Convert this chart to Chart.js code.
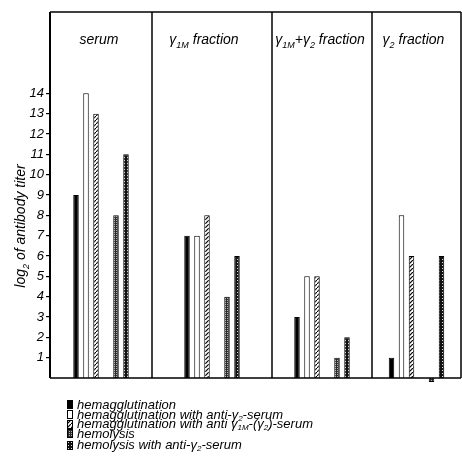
<!DOCTYPE html>
<html>
<head>
<meta charset="utf-8">
<script src="https://cdn.jsdelivr.net/npm/chart.js@4.4.1/dist/chart.umd.min.js"></script>
<style>
html,body{margin:0;padding:0;background:#fff;}
#wrap{position:relative;width:462px;height:473px;overflow:hidden;background:#fff;}
#wrap canvas.panel{position:absolute;top:0;}
#legend{position:absolute;left:67px;top:400px;font:italic 13px 'Liberation Sans',Arial,sans-serif;color:#000;}
#legend .item{height:9.7px;line-height:9.7px;white-space:nowrap;display:flex;align-items:center;}
#legend .item:last-child{margin-top:1.5px;}
#legend .item canvas{margin-right:4px;flex:none;}
#legend sub{font-size:8px;vertical-align:-2px;line-height:0;}
</style>
</head>
<body>
<div id="wrap"><div id="legend"></div></div>
<script>
// ---- data ----
const categories = ['serum', 'γ1M fraction', 'γ1M+γ2 fraction', 'γ2 fraction'];
const seriesLabels = [
  'hemagglutination',
  'hemagglutination with anti-γ2-serum',
  'hemagglutination with anti γ1M-(γ2)-serum',
  'hemolysis',
  'hemolysis with anti-γ2-serum'
];
const hemagglutination        = [9, 7, 3, 1];
const hemagglutinationAntiG2  = [14, 7, 5, 8];
const hemagglutinationAntiG1M = [13, 8, 5, 6];
const hemolysis               = [8, 4, 1, -0.2];
const hemolysisAntiG2         = [11, 6, 2, 6];
const yTicks = [1, 2, 3, 4, 5, 6, 7, 8, 9, 10, 11, 12, 13, 14];
const yTitle = 'log2 of antibody titer';

// ---- layout / style ----
const FONT = "'Liberation Sans', Arial, sans-serif";
const panelEdges = [50, 152, 272, 372, 461];
const CANVAS_H = 400, TOP = 12, BOTTOM_PAD = 22;
const series = [hemagglutination, hemagglutinationAntiG2, hemagglutinationAntiG1M, hemolysis, hemolysisAntiG2];

function makePattern(kind) {
  const c = document.createElement('canvas');
  const x = c.getContext('2d');
  if (kind === 'hatch') {
    c.width = 4; c.height = 4;
    x.fillStyle = '#fff'; x.fillRect(0, 0, 4, 4);
    x.strokeStyle = '#000'; x.lineWidth = 1.2;
    x.beginPath(); x.moveTo(-1, 5); x.lineTo(5, -1); x.stroke();
  } else if (kind === 'stipple') {
    c.width = 2; c.height = 2;
    x.fillStyle = '#2a2a2a'; x.fillRect(0, 0, 2, 2);
    x.fillStyle = '#b0b0b0'; x.fillRect(0, 0, 1, 1);
  } else {
    c.width = 3; c.height = 3;
    x.fillStyle = '#111'; x.fillRect(0, 0, 3, 3);
    x.fillStyle = '#ddd'; x.fillRect(1, 1, 1, 1);
  }
  return x.createPattern(c, 'repeat');
}
const fills = ['#000', '#fff', makePattern('hatch'), makePattern('stipple'), makePattern('dense')];

function toRuns(text) {
  const runs = []; let last = 0; const re = /(γ|log)(\d+M?)/g; let m;
  while ((m = re.exec(text))) {
    if (m.index > last) runs.push({t: text.slice(last, m.index), sub: false});
    runs.push({t: m[1], sub: false}); runs.push({t: m[2], sub: true});
    last = re.lastIndex;
  }
  if (last < text.length) runs.push({t: text.slice(last), sub: false});
  return runs;
}
function drawRuns(ctx, text, x, y, size) {
  const runs = toRuns(text);
  const fonts = runs.map(r => `italic ${r.sub ? Math.round(size * 0.62) : size}px ${FONT}`);
  let total = 0;
  const widths = runs.map((r, i) => { ctx.font = fonts[i]; const w = ctx.measureText(r.t).width; total += w; return w; });
  let cx = x - total / 2;
  ctx.textAlign = 'left'; ctx.textBaseline = 'alphabetic'; ctx.fillStyle = '#000';
  runs.forEach((r, i) => { ctx.font = fonts[i]; ctx.fillText(r.t, cx, y + (r.sub ? size * 0.28 : 0)); cx += widths[i]; });
}

const framePlugin = {
  id: 'frame',
  afterDraw(chart, args, opts) {
    const {ctx, chartArea: a} = chart;
    ctx.save();
    ctx.strokeStyle = '#000';
    ctx.lineWidth = opts.first ? 2 : 1.5;
    ctx.beginPath(); ctx.moveTo(a.left, a.top); ctx.lineTo(a.left, a.bottom); ctx.stroke();
    ctx.lineWidth = 1.6;
    ctx.beginPath(); ctx.moveTo(a.left, a.top); ctx.lineTo(a.right, a.top); ctx.stroke();
    ctx.beginPath(); ctx.moveTo(a.left, a.bottom); ctx.lineTo(a.right, a.bottom); ctx.stroke();
    if (opts.last) { ctx.lineWidth = 1.5; ctx.beginPath(); ctx.moveTo(a.right, a.top); ctx.lineTo(a.right, a.bottom); ctx.stroke(); }
    drawRuns(ctx, chart.data.labels[0], (a.left + a.right) / 2 + (opts.titleShift || 0), 44, 14);
    if (opts.first) {
      ctx.save();
      ctx.translate(21, 226); ctx.rotate(-Math.PI / 2);
      drawRuns(ctx, yTitle, 0, 4, 14);
      ctx.restore();
    }
    ctx.restore();
  }
};

const wrap = document.getElementById('wrap');
categories.forEach((cat, i) => {
  const L = panelEdges[i], R = panelEdges[i + 1], W = R - L;
  const first = i === 0, last = i === categories.length - 1;
  const cv = document.createElement('canvas');
  cv.className = 'panel';
  const cLeft = first ? 0 : L - 3;
  cv.width = R + 3 - cLeft; cv.height = CANVAS_H;
  cv.style.left = cLeft + 'px';
  cv.style.width = cv.width + 'px'; cv.style.height = CANVAS_H + 'px';
  wrap.appendChild(cv);

  const common = {categoryPercentage: 60 / W, barPercentage: 0.55, clip: false, borderColor: '#000', borderWidth: 1};
  const datasets = [];
  series.forEach((arr, k) => {
    if (k === 3) datasets.push(Object.assign({label: '', data: [null], backgroundColor: 'transparent'}, common, {borderWidth: 0}));
    datasets.push(Object.assign({label: seriesLabels[k], data: [arr[i]], backgroundColor: fills[k]}, common));
  });

  const yScale = {
    display: first, min: 0, max: 18, position: 'left',
    grid: {drawOnChartArea: false, drawTicks: true, tickLength: 4, color: '#000', lineWidth: 1.2},
    border: {display: false},
    ticks: {color: '#000', padding: 2, font: {family: FONT, size: 13, style: 'italic'}},
    afterBuildTicks: s => { s.ticks = yTicks.map(v => ({value: v})); }
  };
  if (first) yScale.afterFit = s => { s.width = 50; };

  new Chart(cv, {
    type: 'bar',
    data: {labels: [cat], datasets},
    options: {
      responsive: false, animation: false, devicePixelRatio: 1,
      layout: {padding: {top: TOP, bottom: BOTTOM_PAD, left: first ? 0 : 3, right: 3}},
      plugins: {legend: {display: false}, tooltip: {enabled: false}, frame: {first, last, titleShift: i === 1 ? -8 : (i === 3 ? -3 : -2)}},
      scales: {x: {display: false}, y: yScale}
    },
    plugins: [framePlugin]
  });
});

// HTML legend built from series labels
const legend = document.getElementById('legend');
seriesLabels.forEach((lab, k) => {
  const item = document.createElement('div'); item.className = 'item';
  const sw = document.createElement('canvas'); sw.width = 6; sw.height = 9;
  const sx = sw.getContext('2d');
  sx.fillStyle = fills[k]; sx.fillRect(0, 0, 6, 9);
  sx.strokeStyle = '#000'; sx.lineWidth = 1; sx.strokeRect(0.5, 0.5, 5, 8);
  const span = document.createElement('span');
  span.innerHTML = lab.replace(/γ(\d+M?)/g, 'γ<sub>$1</sub>');
  item.appendChild(sw); item.appendChild(span);
  legend.appendChild(item);
});
</script>
</body>
</html>
